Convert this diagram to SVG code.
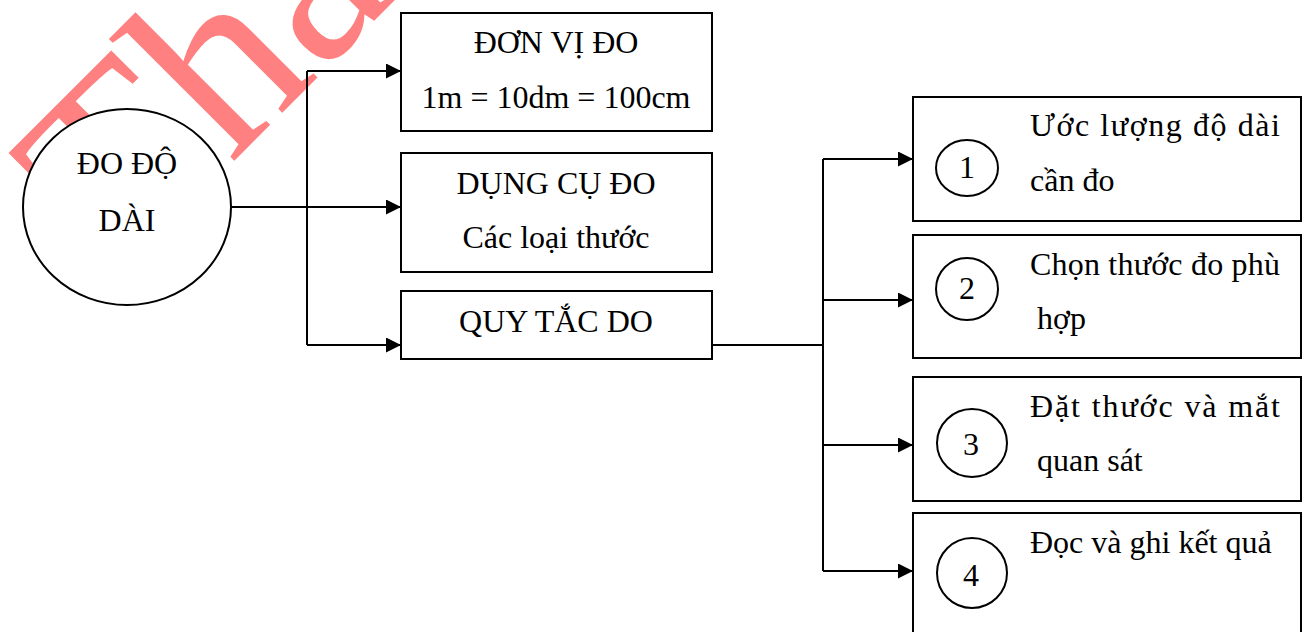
<svg xmlns="http://www.w3.org/2000/svg" width="1303" height="632" viewBox="0 0 1303 632" font-family="Liberation Serif, serif">
<defs>
<marker id="arr" markerUnits="userSpaceOnUse" markerWidth="16" markerHeight="16" refX="15" refY="7.5" orient="auto">
<path d="M0,0 L15,7.5 L0,15 Z" fill="#000"/>
</marker>
<style>
.t{font-family:'Liberation Serif',serif;font-size:32px;fill:#000}
.c{text-anchor:middle}
.box{fill:#fff;stroke:#000;stroke-width:2}
.ln{fill:none;stroke:#000;stroke-width:2}
.ar{fill:none;stroke:#000;stroke-width:2;marker-end:url(#arr)}
.wm{font-family:'Liberation Serif',serif;font-size:252px;fill:#ff8080}
</style>
</defs>
<rect width="1303" height="632" fill="#fff"/>
<text class="wm" transform="translate(122,273) rotate(-45)">Tha</text>
<g id="connectors">
<path class="ln" d="M307,71 V345"/>
<path class="ar" d="M307,71 H401"/>
<path class="ar" d="M231,207 H401"/>
<path class="ar" d="M307,345 H401"/>
<path class="ln" d="M712,345 H823"/>
<path class="ln" d="M823,159 V571"/>
<path class="ar" d="M823,159 H913"/>
<path class="ar" d="M823,300 H913"/>
<path class="ar" d="M823,445 H913"/>
<path class="ar" d="M823,571 H913"/>
</g>
<g id="root">
<ellipse class="box" cx="127" cy="207" rx="104" ry="98"/>
<text class="t c" x="127" y="174">ĐO ĐỘ</text>
<text class="t c" x="127" y="231">DÀI</text>
</g>
<g id="don-vi-do">
<rect class="box" x="401" y="13" width="311" height="118"/>
<text class="t c" x="556" y="53">ĐƠN VỊ ĐO</text>
<text class="t c" x="556" y="108">1m = 10dm = 100cm</text>
</g>
<g id="dung-cu-do">
<rect class="box" x="401" y="153" width="311" height="119"/>
<text class="t c" x="556" y="194">DỤNG CỤ ĐO</text>
<text class="t c" x="556" y="248">Các loại thước</text>
</g>
<g id="quy-tac-do">
<rect class="box" x="401" y="291" width="311" height="68"/>
<text class="t c" x="556" y="332">QUY TẮC DO</text>
</g>
<g id="step1">
<rect class="box" x="913" y="97" width="388" height="124"/>
<ellipse class="box" cx="967" cy="168" rx="31" ry="28"/>
<text class="t c" x="967" y="178">1</text>
<text class="t" x="1030" y="136" textLength="250">Ước lượng độ dài</text>
<text class="t" x="1030" y="191">cần đo</text>
</g>
<g id="step2">
<rect class="box" x="913" y="235" width="388" height="123"/>
<ellipse class="box" cx="967" cy="289" rx="31" ry="31"/>
<text class="t c" x="967" y="299">2</text>
<text class="t" x="1030" y="275" textLength="250">Chọn thước đo phù</text>
<text class="t" x="1037" y="329">hợp</text>
</g>
<g id="step3">
<rect class="box" x="913" y="377" width="388" height="124"/>
<ellipse class="box" cx="972" cy="443" rx="35" ry="34"/>
<text class="t c" x="971" y="455">3</text>
<text class="t" x="1030" y="417" textLength="250">Đặt thước và mắt</text>
<text class="t" x="1037" y="471">quan sát</text>
</g>
<g id="step4">
<rect class="box" x="913" y="513" width="388" height="130"/>
<ellipse class="box" cx="972" cy="573" rx="35" ry="35"/>
<text class="t c" x="971" y="586">4</text>
<text class="t" x="1030" y="553">Đọc và ghi kết quả</text>
</g>
</svg>
